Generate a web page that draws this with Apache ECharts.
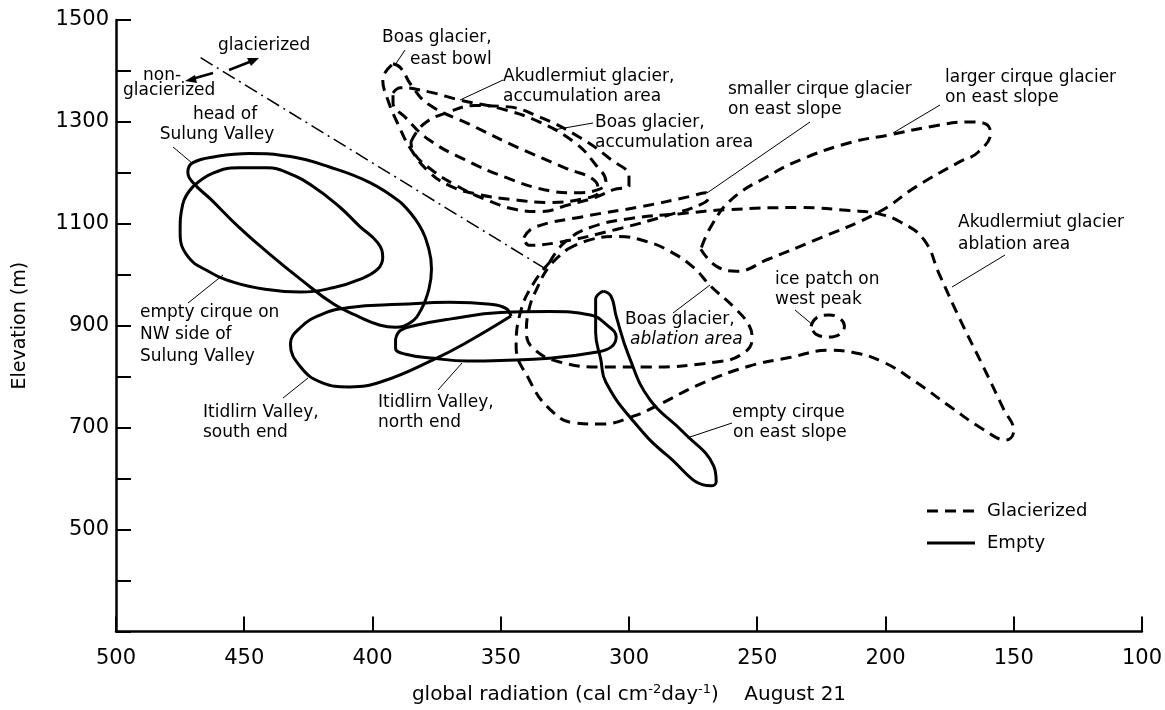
<!DOCTYPE html>
<html><head><meta charset="utf-8">
<script src="https://cdn.jsdelivr.net/npm/echarts@6/dist/echarts.min.js"></script>
<style>html,body{margin:0;padding:0;background:#fff}#c{width:1165px;height:710px}</style>
</head><body><div id="c"></div>
<script>
// ---- axis ticks ----
const xTicks = [500,450,400,350,300,250,200,150,100];
const yLabels = [500,700,900,1100,1300,1500];

// ---- empty cirques (solid outlines): [global radiation, elevation] ----
const headSulung = [[389,1142],[382,1099],[378,1050],[377,1011],[378,972],[381,932],[385,907],[391,897],[397,901],[405,917],[415,942],[428,991],[440,1040],[452,1093],[463,1148],[470,1181],[472,1202],[470,1220],[461,1232],[448,1238],[432,1232],[417,1212],[401,1181],[389,1142]];
const nwSulung = [[470,1173],[462,1200],[452,1210],[441,1210],[433,1200],[423,1173],[413,1134],[405,1095],[398,1063],[396,1034],[398,1011],[405,991],[415,975],[428,966],[441,971],[454,985],[464,1007],[472,1036],[475,1083],[474,1138],[470,1173]];
const itidSouth = [[346,919],[363,868],[376,834],[396,791],[409,780],[420,789],[428,819],[432,864],[428,897],[420,922],[409,936],[389,942],[370,946],[354,942],[348,934],[346,919]];
const itidNorth = [[391,874],[389,891],[383,901],[370,913],[350,926],[331,928],[315,921],[309,903],[305,878],[307,858],[313,848],[331,836],[350,832],[363,831],[376,836],[387,844],[391,856],[391,874]];
const emptyEast = [[310,968],[313,952],[313,887],[311,834],[309,789],[298,711],[285,645],[268,586],[266,594],[267,625],[279,692],[292,756],[300,840],[305,919],[307,958],[310,968]];

// ---- glacierized (dashed outlines) ----
const boasEastBowl = [[392,1414],[389,1406],[385,1373],[378,1334],[362,1295],[343,1249],[325,1210],[313,1183],[312,1163],[317,1150],[331,1142],[346,1148],[360,1159],[370,1175],[378,1202],[385,1246],[390,1295],[394,1343],[396,1383],[392,1414]];
const akudAccum = [[392,1357],[389,1367],[378,1359],[366,1343],[350,1326],[335,1300],[321,1259],[313,1216],[309,1183],[312,1167],[321,1161],[333,1167],[348,1191],[364,1226],[378,1265],[387,1308],[392,1338],[392,1357]];
const boasAccum = [[385,1261],[380,1296],[370,1320],[360,1332],[348,1330],[335,1310],[319,1269],[307,1226],[300,1193],[300,1175],[306,1167],[313,1152],[323,1138],[335,1124],[344,1128],[356,1148],[368,1177],[378,1210],[384,1240],[385,1261]];
const smallerCirque = [[341,1073],[337,1093],[318,1114],[295,1134],[276,1154],[270,1161],[269,1152],[272,1138],[284,1118],[305,1089],[327,1064],[339,1058],[341,1073]];
const largerCirque = [[272,1050],[266,1017],[258,1007],[246,1030],[227,1069],[203,1122],[188,1173],[171,1222],[164,1240],[159,1279],[162,1298],[168,1300],[182,1291],[198,1275],[214,1259],[233,1226],[246,1193],[260,1148],[268,1095],[272,1050]];
const boasAblation = [[324,1050],[315,1069],[304,1075],[293,1065],[284,1046],[275,1015],[268,977],[259,936],[253,899],[252,874],[256,844],[266,829],[292,819],[311,819],[327,829],[337,854],[340,887],[339,932],[336,972],[331,1017],[324,1050]];
const akudAblation = [[331,1024],[325,1064],[315,1093],[300,1110],[280,1120],[261,1128],[233,1132],[214,1126],[203,1120],[194,1103],[185,1069],[179,1001],[171,913],[162,821],[154,737],[150,694],[153,676],[162,697],[175,742],[188,789],[201,829],[213,848],[222,852],[237,838],[253,821],[272,786],[288,746],[298,723],[311,707],[321,709],[331,737],[339,795],[344,860],[342,932],[337,985],[331,1024]];
const icePatch = [[229,899],[227,915],[222,921],[218,915],[216,899],[218,883],[222,878],[227,883],[229,899]];

// ---- glacierized / non-glacierized boundary ----
const boundary = [[467,1426],[331,1007]];

const emptyShapes = [headSulung, nwSulung, itidSouth, itidNorth, emptyEast];
const glacShapes = [boasEastBowl, akudAccum, boasAccum, smallerCirque, largerCirque, boasAblation, akudAblation, icePatch];

const FONT = '"DejaVu Sans", sans-serif';
const DASH = [11,7];
const chart = echarts.init(document.getElementById('c'), null, {renderer:'canvas'});

const series = [];
glacShapes.forEach(d => series.push({
  name:'Glacierized', type:'line', data:d, smooth:0.45, symbol:'none', silent:true,
  lineStyle:{color:'#000', width:3, type:DASH}, itemStyle:{color:'#000'}
}));
emptyShapes.forEach(d => series.push({
  name:'Empty', type:'line', data:d, smooth:0.45, symbol:'none', silent:true,
  lineStyle:{color:'#000', width:3, type:'solid'}, itemStyle:{color:'#000'}
}));
series.push({
  name:'boundary', type:'line', data:boundary, symbol:'none', silent:true,
  lineStyle:{color:'#000', width:1.5, type:[14,5,2,5]}
});

// annotation texts: [text, x(px), y(px), align, italic]
const notes = [
  ['glacierized',218,46,'left'],
  ['non-',143,76,'left'],
  ['glacierized',123,91,'left'],
  ['head of',225,115,'center'],
  ['Sulung Valley',217,135,'center'],
  ['empty cirque on',140,313,'left'],
  ['NW side of',140,335,'left'],
  ['Sulung Valley',140,357,'left'],
  ['Itidlirn Valley,',203,413,'left'],
  ['south end',203,433,'left'],
  ['Itidlirn Valley,',378,403,'left'],
  ['north end',378,423,'left'],
  ['Boas glacier,',625,320,'left'],
  ['ablation area',630,340,'left',true],
  ['ice patch on',775,280,'left'],
  ['west peak',775,300,'left'],
  ['empty cirque',732,413,'left'],
  ['on east slope',733,433,'left'],
  ['Boas glacier,',382,38,'left'],
  ['east bowl',410,60,'left'],
  ['Akudlermiut glacier,',503,77,'left'],
  ['accumulation area',503,97,'left'],
  ['Boas glacier,',595,123,'left'],
  ['accumulation area',595,143,'left'],
  ['smaller cirque glacier',728,90,'left'],
  ['on east slope',728,110,'left'],
  ['larger cirque glacier',945,78,'left'],
  ['on east slope',945,98,'left'],
  ['Akudlermiut glacier',958,223,'left'],
  ['ablation area',958,245,'left']
];
const leaders = [
  [173,147,192,163],[188,303,223,275],[283,398,308,378],[438,390,462,363],
  [673,313,710,285],[795,310,813,325],[732,423,687,438],[405,50,395,65],
  [503,80,460,100],[593,123,553,130],[810,122,707,193],[940,105,893,133],[1005,255,952,287]
];
const graphics = [];
notes.forEach(n => graphics.push({
  type:'text', x:n[1], y:n[2], silent:true,
  style:{text:n[0], fill:'#000', fontSize:17, fontFamily:FONT, fontStyle:n[4]?'italic':'normal',
    textAlign:n[3], textVerticalAlign:'middle'}
}));
leaders.forEach(l => graphics.push({
  type:'line', silent:true, shape:{x1:l[0],y1:l[1],x2:l[2],y2:l[3]}, style:{stroke:'#000', lineWidth:1}
}));
// arrows at the boundary
graphics.push({type:'line', silent:true, shape:{x1:229,y1:70,x2:252,y2:61}, style:{stroke:'#000',lineWidth:2.5}});
graphics.push({type:'polygon', silent:true, shape:{points:[[259,58],[247,58],[251,66]]}, style:{fill:'#000'}});
graphics.push({type:'line', silent:true, shape:{x1:213,y1:73,x2:192,y2:79}, style:{stroke:'#000',lineWidth:2.5}});
graphics.push({type:'polygon', silent:true, shape:{points:[[185,81],[195,75],[197,83]]}, style:{fill:'#000'}});
// legend (line samples + labels)
graphics.push({type:'line', silent:true, shape:{x1:927,y1:511,x2:975,y2:511}, style:{stroke:'#000',lineWidth:3,lineDash:DASH}});
graphics.push({type:'line', silent:true, shape:{x1:927,y1:543,x2:975,y2:543}, style:{stroke:'#000',lineWidth:3}});
graphics.push({type:'text', silent:true, x:987, y:511, style:{text:'Glacierized', fill:'#000', fontSize:18, fontFamily:FONT, textVerticalAlign:'middle'}});
graphics.push({type:'text', silent:true, x:987, y:543, style:{text:'Empty', fill:'#000', fontSize:18, fontFamily:FONT, textVerticalAlign:'middle'}});

chart.setOption({
  animation:false,
  backgroundColor:'#fff',
  grid:{left:116, right:23, top:20, bottom:77, containLabel:false},
  xAxis:{
    type:'value', min:100, max:500, interval:50, inverse:true,
    name:'global radiation (cal cm{sup|-2}day{sup|-1})    August 21',
    nameLocation:'middle', nameGap:52,
    nameTextStyle:{fontSize:20, fontFamily:FONT, color:'#000',
      rich:{sup:{fontSize:13, fontFamily:FONT, color:'#000', verticalAlign:'top', padding:[0,0,10,0]}}},
    axisLine:{onZero:false, lineStyle:{color:'#000', width:2.5}},
    axisTick:{inside:true, length:15, lineStyle:{color:'#000', width:2}},
    axisLabel:{fontSize:21, fontFamily:FONT, color:'#000', margin:17},
    splitLine:{show:false}
  },
  yAxis:{
    type:'value', min:300, max:1500, interval:100,
    name:'Elevation (m)', nameLocation:'middle', nameGap:86, nameRotate:90,
    nameTextStyle:{fontSize:19, fontFamily:FONT, color:'#000'},
    axisLine:{onZero:false, lineStyle:{color:'#000', width:2.5}},
    axisTick:{inside:true, length:15, lineStyle:{color:'#000', width:2}},
    axisLabel:{fontSize:21, fontFamily:FONT, color:'#000', margin:7,
      formatter: v => yLabels.indexOf(v) >= 0 ? String(v) : ''},
    splitLine:{show:false}
  },
  series: series,
  graphic: graphics
});
</script></body></html>
